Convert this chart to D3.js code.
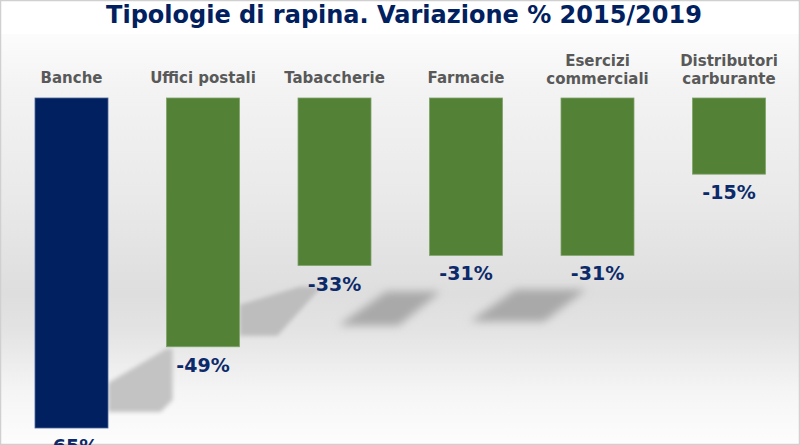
<!DOCTYPE html>
<html><head><meta charset="utf-8">
<script src="https://cdn.jsdelivr.net/npm/d3@7/dist/d3.min.js"></script>
<style>html,body{margin:0;padding:0;background:#fff}svg{display:block}</style>
</head><body>
<svg id="c" width="800" height="445"></svg>
<script>
const title = "Tipologie di rapina. Variazione % 2015/2019";
const categories = ["Banche", "Uffici postali", "Tabaccherie", "Farmacie", "Esercizi\ncommerciali", "Distributori\ncarburante"];
const values = [-65, -49, -33, -31, -31, -15];
const barColors = ["#002060", "#538135", "#538135", "#538135", "#538135", "#538135"];
const valueLabels = ["-65%", "-49%", "-33%", "-31%", "-31%", "-15%"];

const W = 800, H = 445;
const svg = d3.select("#c");
const defs = svg.append("defs");

const bg = defs.append("linearGradient").attr("id","bg").attr("x1",0).attr("y1",0).attr("x2",0).attr("y2",1);
[[0,"#ffffff"],[0.09,"#fbfbfb"],[0.2,"#f3f3f3"],[0.45,"#e9e9e9"],[0.66,"#dedede"],[0.74,"#e3e3e3"],[0.88,"#f5f5f5"],[1,"#fdfdfd"]]
  .forEach(([o,c]) => bg.append("stop").attr("offset",o).attr("stop-color",c));
const blur = defs.append("filter").attr("id","blur").attr("x","-30%").attr("y","-30%").attr("width","160%").attr("height","160%");
blur.append("feGaussianBlur").attr("stdDeviation",4);
const blur2 = defs.append("filter").attr("id","blur2").attr("x","-20%").attr("y","-20%").attr("width","140%").attr("height","140%");
blur2.append("feGaussianBlur").attr("stdDeviation",2);

svg.append("rect").attr("x",0).attr("y",0).attr("width",W).attr("height",H).attr("fill","url(#bg)");
svg.append("rect").attr("x",0).attr("y",0).attr("width",W).attr("height",34).attr("fill","#ffffff");
svg.append("rect").attr("x",0.5).attr("y",0.5).attr("width",W-1).attr("height",H-1)
  .attr("fill","none").attr("stroke","#d0d0d0").attr("stroke-width",1.5);

const x = d3.scaleBand().domain(categories).range([5.75, 794.75]).paddingInner(0.445).paddingOuter(0.2225);
const y = d3.scaleLinear().domain([0, -65]).range([98, 428]);
const bw = x.bandwidth();

// decorative shadows derived from bar geometry
const sh = svg.append("g");
{
  const x0 = x(categories[0]) + bw, xn = x(categories[1]);
  sh.append("path").attr("filter","url(#blur2)").attr("fill","#c3c3c3")
    .attr("d", d3.line()([[x0, y(-65)-45],[xn, y(-49)+2],[xn+6, y(-49)+2],[xn+6, y(-65)-28],[xn-6, y(-65)-16],[x0, y(-65)-16]]));
}
{
  const x0 = x(categories[1]) + bw, b = y(-49);
  sh.append("path").attr("filter","url(#blur2)").attr("fill","#bdbdbd")
    .attr("d", d3.line()([[x0, b-42],[x0+60, b-60],[x0+82, b-60],[x0+38, b-11],[x0, b-11]]));
}
{
  const c = x(categories[2]) + bw/2, b = y(-33);
  sh.append("path").attr("filter","url(#blur)").attr("fill","#a9a9a9")
    .attr("d", d3.line()([[c+4, b+60],[c+52, b+26],[c+106, b+26],[c+64, b+60]]));
}
{
  const c = x(categories[3]) + bw/2, b = y(-31);
  sh.append("path").attr("filter","url(#blur)").attr("fill","#a9a9a9")
    .attr("d", d3.line()([[c+4, b+66],[c+50, b+34],[c+120, b+34],[c+78, b+66]]));
}

// bars
svg.append("g").selectAll("rect").data(values).join("rect")
  .attr("x", (d,i) => x(categories[i]))
  .attr("y", y(0))
  .attr("width", bw)
  .attr("height", d => y(d) - y(0))
  .attr("fill", (d,i) => barColors[i])
  .attr("stroke", (d,i) => i === 0 ? "#4a6496" : "#7fa36a")
  .attr("stroke-width", 0.8);

// category labels
const cl = svg.append("g").attr("font-family","'DejaVu Sans', Verdana, sans-serif")
  .attr("font-weight","bold").attr("font-size","15px").attr("fill","#595959").attr("text-anchor","middle");
categories.forEach((c,i) => {
  const lines = c.split("\n");
  const t = cl.append("text").attr("x", x(c) + bw/2);
  const base = lines.length === 1 ? 83 : 66;
  lines.forEach((ln,j) => t.append("tspan").attr("x", x(c)+bw/2).attr("y", base + j*18).text(ln));
});

// value labels
svg.append("g").selectAll("text").data(values).join("text")
  .attr("x", (d,i) => x(categories[i]) + bw/2)
  .attr("y", d => y(d) + 25)
  .attr("text-anchor","middle")
  .attr("font-family","'DejaVu Sans', Verdana, sans-serif")
  .attr("font-weight","bold").attr("font-size","19px").attr("fill","#0c2a6a")
  .text((d,i) => valueLabels[i]);

// title
svg.append("text").attr("x", 404).attr("y", 23).attr("text-anchor","middle")
  .attr("font-family","'DejaVu Sans', Verdana, sans-serif").attr("font-weight","bold")
  .attr("font-size","24px").attr("fill","#002060").text(title);
</script>
</body></html>
